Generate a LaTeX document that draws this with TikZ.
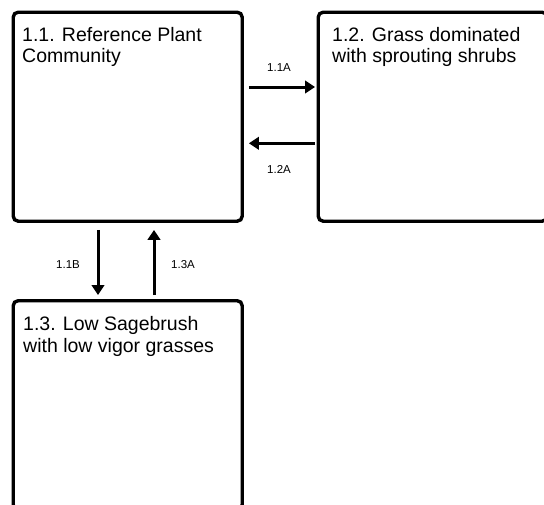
\documentclass[tikz,border=0pt]{standalone}
\usepackage{fontspec}
\setmainfont{Liberation Sans}
\usetikzlibrary{arrows.meta}
\begin{document}
\begin{tikzpicture}[x=1pt,y=-1pt,
  box/.style={draw=black, line width=3.4pt, rounded corners=5pt, minimum width=229pt, minimum height=209pt, inner sep=0pt, anchor=north west},
  boxtext/.style={anchor=base west, align=left, inner sep=0pt, font=\fontsize{19.5}{21.2}\selectfont},
  lab/.style={inner sep=0pt, font=\fontsize{11.5}{13}\selectfont},
  arr/.style={line width=3pt, -{Triangle[length=10pt,width=12.5pt]}}]
\clip (0,0) rectangle (544,504);
\fill[white] (0,0) rectangle (544,504);
\node[box] (b11) at (11.5,10.5) {};
\node[box] (b12) at (316.5,10.5) {};
\node[box] (b13) at (11.5,299) {};
\node[boxtext] (t11) at (22,62.5) {1.1. Reference Plant\\Community};
\node[boxtext] (t12) at (332,62.5) {1.2. Grass dominated\\with sprouting shrubs};
\node[boxtext] (t13) at (23,352) {1.3. Low Sagebrush\\with low vigor grasses};
\coordinate (ya) at (0,87);
\coordinate (yb) at (0,143.3);
\coordinate (xa) at (98,0);
\coordinate (xb) at (154,0);
\draw[arr, shorten <=5pt, shorten >=1.5pt] (b11.east |- ya) -- (b12.west |- ya);
\draw[arr, shorten <=1.5pt, shorten >=5pt] (b12.west |- yb) -- (b11.east |- yb);
\draw[arr, shorten <=7pt, shorten >=4pt] (xa |- b11.south) -- (xa |- b13.north);
\draw[arr, shorten <=4pt, shorten >=7pt] (xb |- b13.north) -- (xb |- b11.south);
\node[lab] (l1) at (279,67.5) {1.1A};
\node[lab] (l2) at (279,169) {1.2A};
\node[lab] (l3) at (68,265) {1.1B};
\node[lab] (l4) at (183,265) {1.3A};
\end{tikzpicture}
\end{document}
